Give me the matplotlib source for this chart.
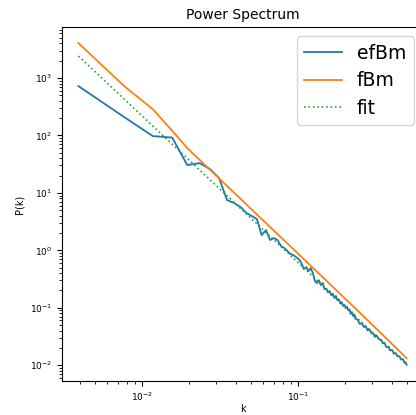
import matplotlib
matplotlib.use('Agg')
import matplotlib.pyplot as plt
import numpy as np

# frequency index (k = n / 256) and power values
n_efbm = [1, 2, 3, 4, 5, 6, 7, 8, 9, 10, 11, 12, 13, 14, 15, 16, 17, 18, 19, 20,
          21, 22, 23, 24, 25, 26, 27, 28, 29, 30, 31, 32, 33, 34, 35, 36, 37, 38,
          39, 40, 41, 42, 43, 44, 45, 46, 47, 48, 49, 50, 51, 52, 53, 54, 55, 56,
          57, 58, 59, 60, 62, 64, 66, 68, 70, 72, 74, 76, 78, 80, 82, 85, 88, 90,
          92, 95, 98, 100, 103, 106, 109, 112, 115, 118, 121, 124, 126, 128]
p_efbm = [726, 203, 97.7, 91.9, 30.5, 33.0, 26.0, 18.1, 7.5, 6.64, 5.66, 4.45,
          3.94, 3.50, 1.84, 2.25, 1.51, 1.63, 1.51, 1.18, 1.09, 0.97, 0.86, 0.825,
          0.76, 0.70, 0.60, 0.47, 0.51, 0.434, 0.49, 0.40, 0.29, 0.268, 0.30, 0.248,
          0.27, 0.21, 0.215, 0.185, 0.195, 0.165, 0.175, 0.148, 0.16, 0.135, 0.14,
          0.118, 0.125, 0.107, 0.112, 0.098, 0.104, 0.090, 0.093, 0.078, 0.084,
          0.072, 0.076, 0.064, 0.062, 0.052, 0.054, 0.046, 0.047, 0.040, 0.042,
          0.036, 0.036, 0.031, 0.033, 0.028, 0.0275, 0.024, 0.0245, 0.0205, 0.021,
          0.018, 0.0185, 0.0158, 0.0162, 0.0142, 0.0143, 0.0125, 0.0128, 0.0110,
          0.0112, 0.0101]

n_fbm = [1, 2, 3, 4, 5, 8, 16, 32, 64, 128]
p_fbm = [4070, 697, 288, 121, 60.3, 17.9, 2.98, 0.496, 0.0822, 0.0132]

k_fit = [1 / 256, 0.5]
p_fit = [2420, 0.0102]

x_ticks = [1e-2, 1e-1]
y_ticks = [1e-2, 1e-1, 1e0, 1e1, 1e2, 1e3]

k_efbm = np.array(n_efbm) / 256
k_fbm = np.array(n_fbm) / 256

fig = plt.figure(figsize=(4.16, 4.15), dpi=100)
# axes runs a little past the right edge, as in the cropped original
ax = fig.add_axes([0.149, 0.082, 0.868, 0.853])

ax.loglog(k_efbm, p_efbm, lw=1.3, label='efBm')
ax.loglog(k_fbm, p_fbm, lw=1.3, label='fBm')
ax.loglog(k_fit, p_fit, ':', lw=1.2, label='fit')

# keep the autoscaled limits, only list the labelled decades
xlim = ax.get_xlim()
ylim = ax.get_ylim()
ax.set_xticks(x_ticks)
ax.set_yticks(y_ticks)
ax.set_xlim(xlim)
ax.set_ylim(ylim)

ax.set_title('Power Spectrum', fontsize=10)
ax.set_xlabel('k', fontsize=7, labelpad=1)
ax.set_ylabel('P(k)', fontsize=7)
ax.tick_params(labelsize=6.5)
ax.legend(fontsize=13.5, labelspacing=0.45)

fig.savefig('out.png', dpi=100)
